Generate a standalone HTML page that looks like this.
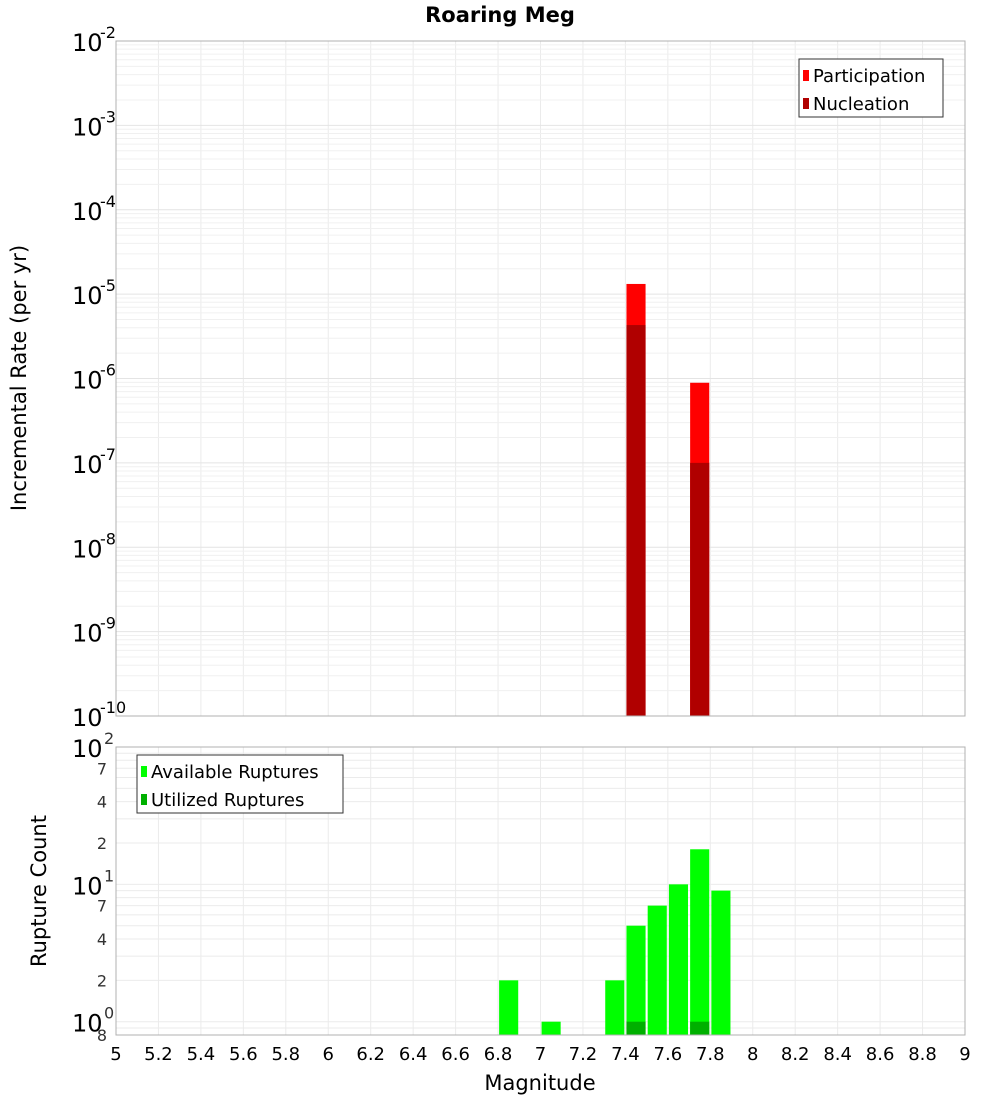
<!DOCTYPE html>
<html><head><meta charset="utf-8"><style>
body{margin:0;background:#fff;width:1000px;height:1100px;overflow:hidden}
svg text{font-family:"DejaVu Sans","Liberation Sans",sans-serif}
</style></head><body>
<svg id="c" width="1000" height="1100"></svg>
<script>
const magBins=[6.85,7.05,7.35,7.45,7.55,7.65,7.75,7.85];
const availCounts=[2,1,2,5,7,10,18,9];
const utilBins=[7.45,7.75];
const utilCounts=[1,1];
const rateBins=[7.45,7.75];
const participationRates=[1.32e-5,8.9e-7];
const nucleationRates=[4.3e-6,1.0e-7];
const xTicks=[5,5.2,5.4,5.6,5.8,6,6.2,6.4,6.6,6.8,7,7.2,7.4,7.6,7.8,8,8.2,8.4,8.6,8.8,9];

const svg=document.getElementById('c');
const NS='http://www.w3.org/2000/svg';
function mk(t,a,p){const e=document.createElementNS(NS,t);for(const k in a)e.setAttribute(k,a[k]);(p||svg).appendChild(e);return e;}
const X0=116,X1=965;
const x=m=>X0+(m-5)/4*(X1-X0);
const T0=41,T1=716;
const yTop=v=>T0+(-2-Math.log10(v))/8*(T1-T0);
const B0=747,B1=1035,bMin=Math.log10(0.8);
const yBot=v=>B0+(2-Math.log10(v))/(2-bMin)*(B1-B0);

// grids
const g=mk('g',{});


xTicks.forEach(t=>{
  mk('line',{x1:x(t),x2:x(t),y1:T0,y2:T1,stroke:'#ebebeb'},g);
  mk('line',{x1:x(t),x2:x(t),y1:B0,y2:B1,stroke:'#ebebeb'},g);
});
for(let e=-10;e<-2;e++)for(let k=1;k<10;k++){const yy=yTop(k*Math.pow(10,e));mk('line',{x1:X0,x2:X1,y1:yy,y2:yy,stroke:k==1?'#e4e4e4':'#f0f0f0'},g);}
for(let e=-1;e<2;e++)for(let k=1;k<10;k++){const v=k*Math.pow(10,e);if(v<0.8)continue;const yy=yBot(v);mk('line',{x1:X0,x2:X1,y1:yy,y2:yy,stroke:'#ebebeb'},g);}

// top bars
const bw=0.09*(X1-X0)/4;
rateBins.forEach((m,i)=>{
  let r=mk('rect',{x:x(m)-bw/2,y:yTop(participationRates[i]),width:bw,height:T1-yTop(participationRates[i]),fill:'#ff0000'});
  
  
  r=mk('rect',{x:x(m)-bw/2,y:yTop(nucleationRates[i]),width:bw,height:T1-yTop(nucleationRates[i]),fill:'#b00000'});
  
  
});
magBins.forEach((m,i)=>{
  const r=mk('rect',{x:x(m)-bw/2,y:yBot(availCounts[i]),width:bw,height:B1-yBot(availCounts[i]),fill:'#00ff00'});
  
  
});
utilBins.forEach((m,i)=>{
  const r=mk('rect',{x:x(m)-bw/2,y:yBot(utilCounts[i]),width:bw,height:B1-yBot(utilCounts[i]),fill:'#00b000'});
  
  
});
// frames
mk('rect',{x:X0,y:T0,width:X1-X0,height:T1-T0,fill:'none',stroke:'#b0b0b0'});
mk('rect',{x:X0,y:B0,width:X1-X0,height:B1-B0,fill:'none',stroke:'#b0b0b0'});

// top y labels
for(let e=-10;e<=-2;e++){
  const yy=yTop(Math.pow(10,e));
  const t=mk('text',{x:72,y:yy+10,'font-size':24,fill:'#000'});
  
  
  t.textContent='10';
  const s=mk('text',{x:100,y:yy-3,'font-size':16,fill:'#000'});s.textContent=String(e);
}
// bottom y labels
[[100,'10','2'],[10,'10','1'],[1,'10','0']].forEach(([v,a,b])=>{
  const yy=yBot(v);
  const t=mk('text',{x:72,y:yy+10,'font-size':24});t.textContent=a;
  
  
  mk('text',{x:104,y:yy-3,'font-size':16,fill:'#333'}).textContent=b;
});
[[70,'7'],[40,'4'],[20,'2'],[7,'7'],[4,'4'],[2,'2'],[0.8,'8']].forEach(([v,l])=>{
  const t=mk('text',{x:107,y:yBot(v)+6,'font-size':16,fill:'#333','text-anchor':'end'});t.textContent=l;
});
// x labels
xTicks.forEach(t=>{
  const e=mk('text',{x:x(t),y:1060,'font-size':18,'text-anchor':'middle'});
  
  
  e.textContent=String(t);
});
// titles
let e=mk('text',{x:500,y:22,'font-size':21,'font-weight':'bold','text-anchor':'middle'});e.textContent='Roaring Meg';

e=mk('text',{x:540,y:1090,'font-size':21,'text-anchor':'middle'});e.textContent='Magnitude';

e=mk('text',{x:26,y:378,'font-size':21,'text-anchor':'middle',transform:'rotate(-90 26 378)'});e.textContent='Incremental Rate (per yr)';

e=mk('text',{x:46,y:891,'font-size':21,'text-anchor':'middle',transform:'rotate(-90 46 891)'});e.textContent='Rupture Count';

// legends
function legend(lx,ly,w,items,name){
  const lg=mk('g',{});
  
  
  mk('rect',{x:lx,y:ly,width:w,height:58,fill:'#fff',stroke:'#333'},lg);
  items.forEach(([c,l],i)=>{
    mk('rect',{x:lx+4,y:ly+11+i*28,width:6,height:11,fill:c},lg);
    const t=mk('text',{x:lx+14,y:ly+23+i*28,'font-size':18},lg);t.textContent=l;
  });
}
legend(799,59,144,[['#ff0000','Participation'],['#b00000','Nucleation']],'legend-top');
legend(137,755,206,[['#00ff00','Available Ruptures'],['#00b000','Utilized Ruptures']],'legend-bottom');
</script>
</body></html>
